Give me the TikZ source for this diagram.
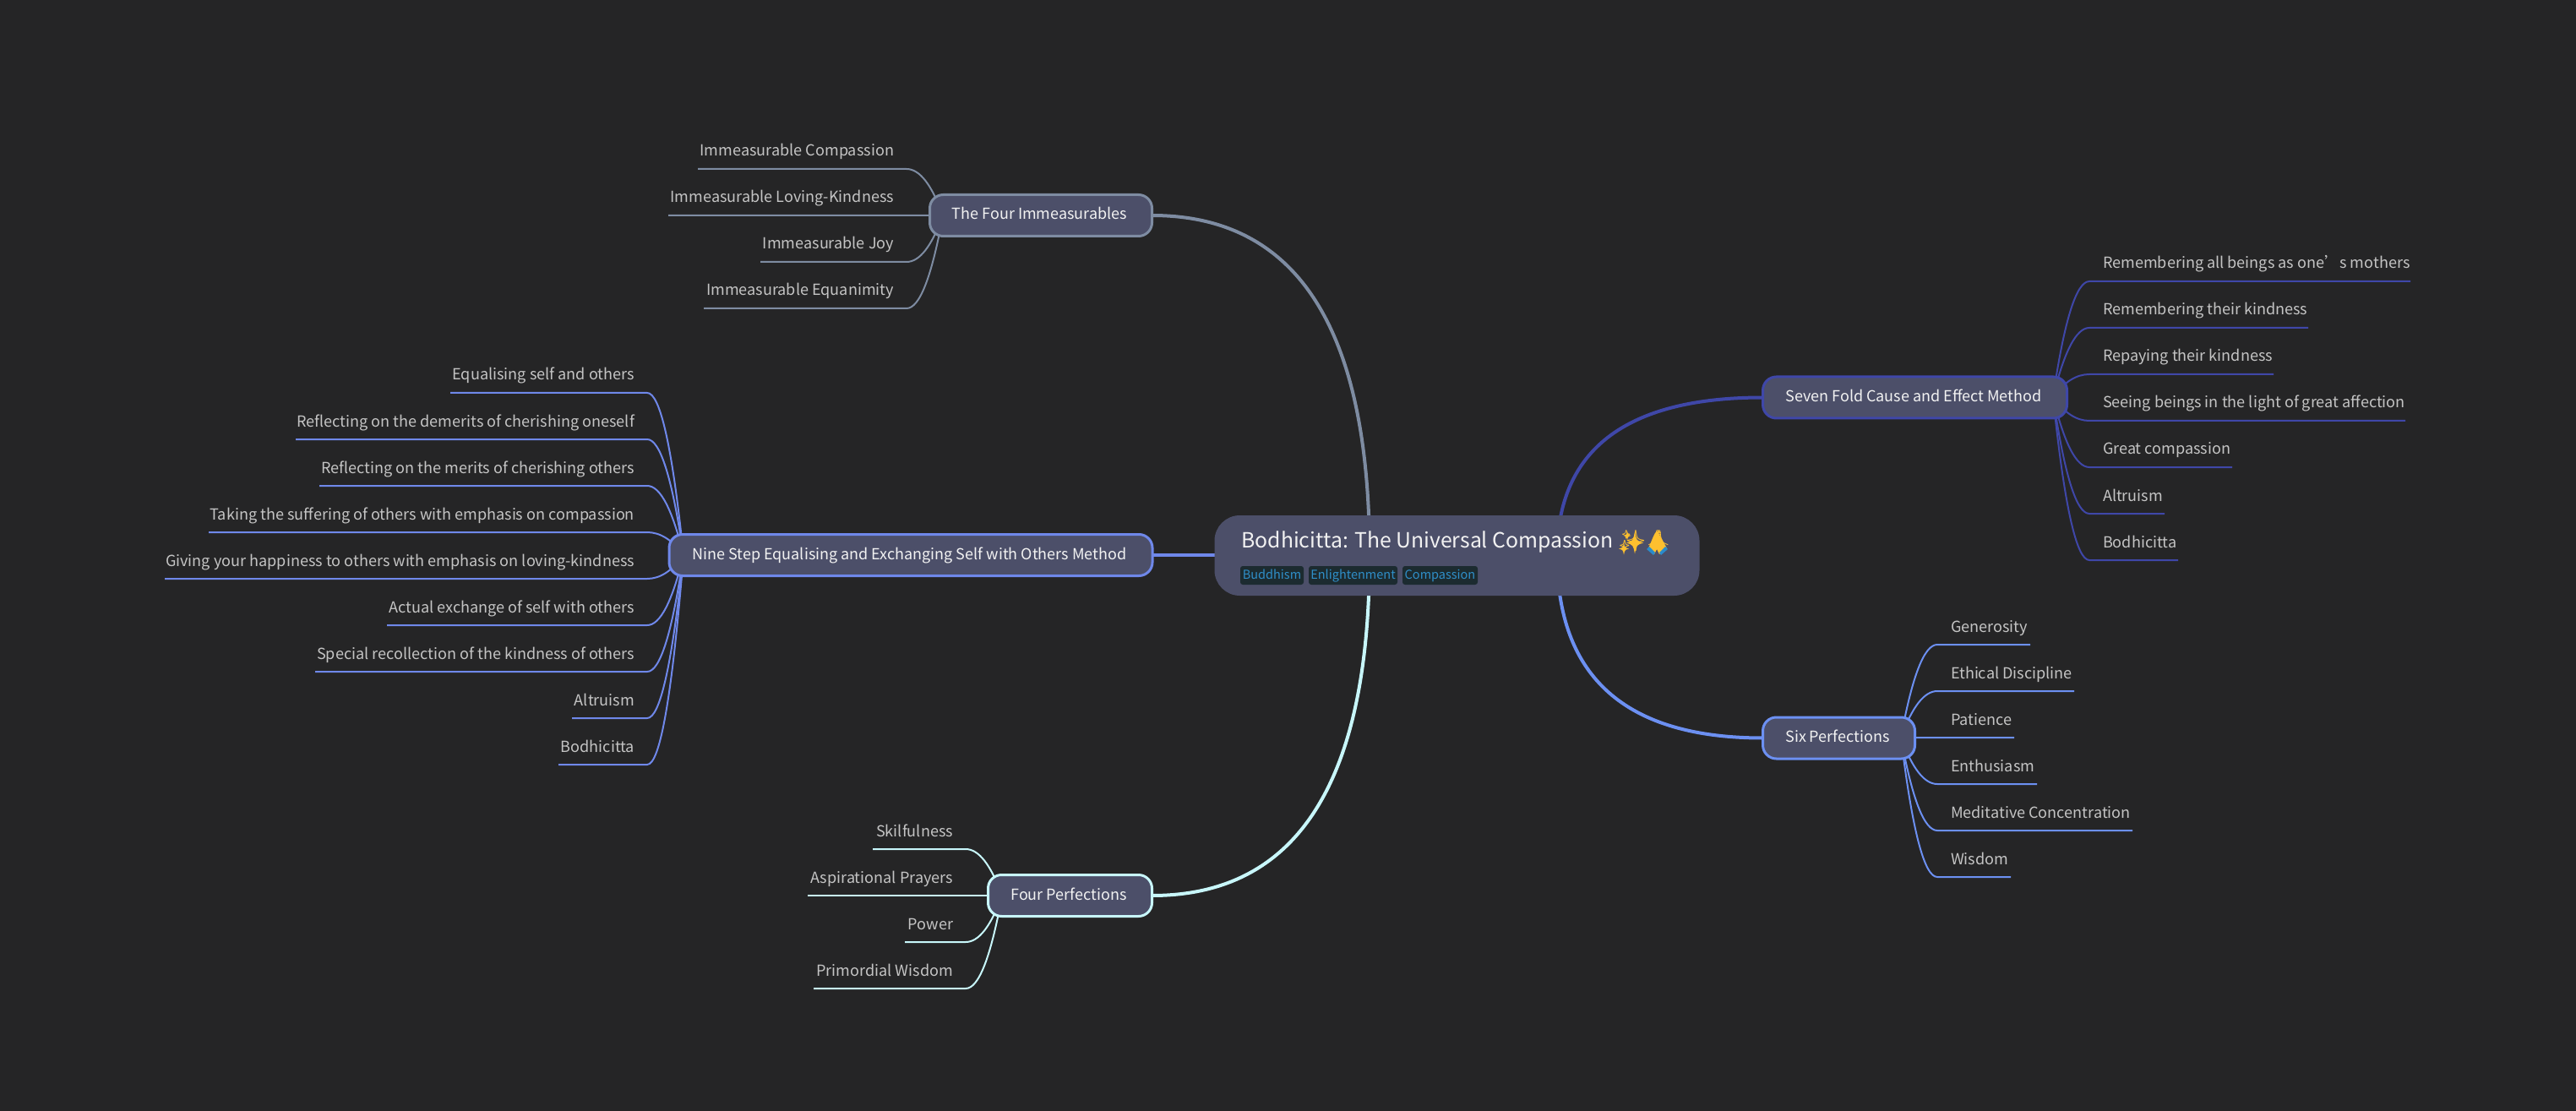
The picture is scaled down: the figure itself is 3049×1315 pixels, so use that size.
\documentclass[tikz,border=0pt]{standalone}
\usepackage{fontspec}
\setmainfont{Noto Sans CJK SC}
\newfontfamily\emojifont{Noto Emoji}
\usetikzlibrary{calc}
\definecolor{bgc}{HTML}{252526}
\definecolor{nodefill}{HTML}{4C4F69}
\definecolor{nodetext}{HTML}{F2F2F2}
\definecolor{leaftext}{HTML}{C4C4C4}
\definecolor{tagfill}{HTML}{1C2B30}
\definecolor{tagtext}{HTML}{2F8FC9}
\definecolor{cImm}{HTML}{7E8CA2}
\definecolor{cNine}{HTML}{6F88EA}
\definecolor{cFour}{HTML}{C8F7FB}
\definecolor{cSeven}{HTML}{3F47A8}
\definecolor{cSix}{HTML}{6C90F2}
\definecolor{emojic}{HTML}{FDC02F}
\definecolor{cuff}{HTML}{2A8BCB}
\pgfdeclarelayer{bgl}
\pgfdeclarelayer{edges}
\pgfsetlayers{bgl,edges,main}
\tikzset{
  branchnode/.style={draw=#1,fill=nodefill,line width=1.5pt,rounded corners=8pt,inner sep=0pt,outer sep=0pt,
    text=nodetext,font=\fontsize{9.0}{11}\selectfont,text height=6pt,text depth=1pt,minimum height=24.5pt,
    execute at begin node={\kern-1.6pt}},
  leaf/.style={inner sep=0pt,outer sep=0pt,text=leaftext,font=\fontsize{9.04}{11}\selectfont},
  tagbox/.style={fill=tagfill,rounded corners=1.5pt,inner sep=0pt,outer sep=0pt,text=tagtext,
    font=\fontsize{7.25}{9}\selectfont,text height=5.5pt,text depth=1.5pt,minimum height=11pt},
  mainedge/.style={draw=#1,line width=2pt},
  subedge/.style={draw=#1,line width=1pt}
}
% prefix, origin, control x, horizontal-start x, text x, text anchor, colour, list y/xend/text
\newcommand{\leafset}[8]{%
  \foreach \yy/\xe/\txt [count=\i] in {#8} {%
    \node[leaf,anchor=#6] (#1\i) at (#5,\yy-15) {\txt};
    \coordinate (#1\i c) at (#3,\yy);
    \coordinate (#1\i h) at (#4,\yy);
    \coordinate (#1\i e) at (\xe,\yy);
    \begin{pgfonlayer}{edges}
      \draw[subedge=#7] (#2) .. controls ($(#2)!.667!(#1\i c)$) and ($(#1\i h)!.667!(#1\i c)$) .. (#1\i h) -- (#1\i e);
    \end{pgfonlayer}
  }%
}
\newcommand{\mainlink}[3]{%
  \begin{pgfonlayer}{edges}
    \draw[mainedge=#3] (#1) .. controls ($(#1)!.667!(#1 |- #2)$) and ($(#2)!.667!(#1 |- #2)$) .. (#2);
  \end{pgfonlayer}
}
% filled four-point star: centre x, y, radius x, radius y
\newcommand{\sparkstar}[4]{%
  \fill[emojic] (#1-#3,#2) .. controls (#1-0.2*#3,#2-0.2*#4) .. (#1,#2-#4)
    .. controls (#1+0.2*#3,#2-0.2*#4) .. (#1+#3,#2)
    .. controls (#1+0.2*#3,#2+0.2*#4) .. (#1,#2+#4)
    .. controls (#1-0.2*#3,#2+0.2*#4) .. cycle;
}
\begin{document}
\begin{tikzpicture}[x=0.5pt,y=-0.5pt]
\path[use as bounding box] (0,0) rectangle (3049,1315);
\begin{pgfonlayer}{bgl}
  \fill[bgc] (0,0) rectangle (3049,1315);
\end{pgfonlayer}

% root
\node[fill=nodefill,rounded corners=15pt,inner sep=0pt,outer sep=0pt,minimum width=287pt,minimum height=47.5pt] (root) at (1724.5,657.5) {};
\node[inner sep=0pt,anchor=base west,text=nodetext,font=\fontsize{12.4}{15}\selectfont] (title) at (1469,648) {Bodhicitta: The Universal Compassion};
\sparkstar{1935}{642.5}{10}{13}
\sparkstar{1926}{634}{4.5}{5.5}
\sparkstar{1922}{649.5}{6}{7}
\fill[emojic] (1960.5,629) .. controls (1958,631) and (1955,640) .. (1951,649) -- (1958,656) -- (1961,650) -- (1964,656) -- (1973,649) .. controls (1968,640) and (1964,631) .. cycle;
\node[inner sep=0pt,anchor=base west,text=emojic,font=\emojifont\fontsize{12.2}{15}\selectfont] (emoji) at (1916,648) {✨🙏};
\fill[cuff] (1949,650) -- (1952,647) -- (1959,654) -- (1957,657) -- cycle;
\fill[cuff] (1974,650) -- (1971,647) -- (1964,654) -- (1966,657) -- cycle;
\node[tagbox,minimum width=37.5pt] (tag1) at (1505.5,681) {Buddhism};
\node[tagbox,minimum width=52.5pt] (tag2) at (1601.5,681) {Enlightenment};
\node[tagbox,minimum width=44.5pt] (tag3) at (1704.5,681) {Compassion};

% branches
\node[branchnode=cImm,minimum width=131.5pt] (imm) at (1232,255) {The Four Immeasurables};
\node[branchnode=cNine,minimum width=286pt] (nine) at (1078,657) {Nine Step Equalising and Exchanging Self with Others Method};
\node[branchnode=cFour,minimum width=97pt] (four) at (1266.5,1060) {Four Perfections};
\node[branchnode=cSeven,minimum width=180pt] (seven) at (2266.5,470.5) {Seven Fold Cause and Effect Method};
\node[branchnode=cSix,minimum width=90pt] (six) at (2176.5,873.5) {Six Perfections};

\coordinate (rootL) at (1621,657);
\coordinate (rootR) at (1843,657);
\mainlink{rootL}{imm.east}{cImm}
\mainlink{rootL}{four.east}{cFour}
\mainlink{rootR}{seven.west}{cSeven}
\mainlink{rootR}{six.west}{cSix}
\begin{pgfonlayer}{edges}
  \draw[mainedge=cNine] (root.west |- nine.east) -- (nine.east);
\end{pgfonlayer}

\coordinate (immO) at (1116,255);
\coordinate (nineO) at (809,657);
\coordinate (fourO) at (1186,1060);
\coordinate (sevenO) at (2430,470);
\coordinate (sixO) at (2250,873);

\leafset{immL}{immO}{1096}{1073}{1058}{base east}{cImm}{
  200/826/Immeasurable Compassion,
  255/791/Immeasurable Loving-Kindness,
  310/900/Immeasurable Joy,
  365/833/Immeasurable Equanimity}
\leafset{nineL}{nineO}{789}{766}{751}{base east}{cNine}{
  465/533/Equalising self and others,
  520/350/Reflecting on the demerits of cherishing oneself,
  575/378/Reflecting on the merits of cherishing others,
  630/247/Taking the suffering of others with emphasis on compassion,
  685/195/Giving your happiness to others with emphasis on loving-kindness,
  740/458/Actual exchange of self with others,
  795/373/Special recollection of the kindness of others,
  850/677/Altruism,
  905/661/Bodhicitta}
\leafset{fourL}{fourO}{1166}{1143}{1128}{base east}{cFour}{
  1005/1033/Skilfulness,
  1060/956/Aspirational Prayers,
  1115/1071/Power,
  1170/963/Primordial Wisdom}
\leafset{sevenL}{sevenO}{2450}{2473}{2489}{base west}{cSeven}{
  333/2853/Remembering all beings as one’s mothers,
  388/2732/Remembering their kindness,
  443/2691/Repaying their kindness,
  498/2847/Seeing beings in the light of great affection,
  553/2642/Great compassion,
  608/2562/Altruism,
  663/2578/Bodhicitta}
\leafset{sixL}{sixO}{2270}{2293}{2309}{base west}{cSix}{
  763/2403/Generosity,
  818/2455/Ethical Discipline,
  873/2384/Patience,
  928/2411/Enthusiasm,
  983/2524/Meditative Concentration,
  1038/2380/Wisdom}
\end{tikzpicture}
\end{document}
